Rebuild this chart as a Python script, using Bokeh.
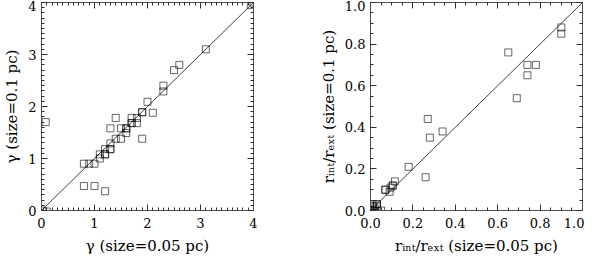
from bokeh.plotting import figure
from bokeh.layouts import row
from bokeh.models import (SingleIntervalTicker, LinearAxis, Range1d, PrintfTickFormatter,
                          CustomJSTickFormatter)
from bokeh.embed import file_html
from bokeh.resources import INLINE

# Left panel: gamma at two sizes
gamma_005 = [0.02, 0.10, 0.08, 0.80, 0.90, 1.00, 0.80, 1.00, 1.20, 1.10, 1.10, 1.20, 1.20,
             1.20, 1.30, 1.30, 1.30, 1.40, 1.50, 1.40, 1.30, 1.50, 1.60, 1.60, 1.60, 1.70,
             1.70, 1.80, 1.70, 1.80, 1.90, 1.90, 1.90, 2.00, 2.10, 2.30, 2.30, 2.50, 2.60,
             3.10, 3.95, 4.00]
gamma_01 = [0.00, -0.02, 1.70, 0.90, 0.90, 0.90, 0.47, 0.47, 0.37, 1.00, 1.08, 1.08, 1.08,
            1.18, 1.18, 1.18, 1.29, 1.38, 1.38, 1.78, 1.58, 1.58, 1.58, 1.58, 1.49, 1.68,
            1.68, 1.68, 1.78, 1.78, 1.89, 1.89, 1.38, 2.09, 1.88, 2.29, 2.40, 2.70, 2.80,
            3.10, 3.95, 4.00]

# Right panel: r_int/r_ext at two sizes
ratio_005 = [0.90, 0.90, 0.65, 0.74, 0.78, 0.74, 0.69, 0.27, 0.28, 0.34, 0.18, 0.26,
             0.115, 0.105, 0.105, 0.095, 0.07, 0.07, 0.09,
             0.00, 0.01, 0.02, 0.05, 0.01, 0.03, 0.01, 0.03, 0.02, 0.00, 0.01, 0.03]
ratio_01 = [0.88, 0.85, 0.76, 0.70, 0.70, 0.65, 0.54, 0.44, 0.35, 0.38, 0.21, 0.16,
            0.14, 0.12, 0.12, 0.11, 0.10, 0.10, 0.09,
            0.00, 0.00, 0.00, 0.00, 0.02, 0.02, 0.03, 0.03, 0.01, 0.00, 0.02, 0.03]

left_diag = [0, 4]
right_diag = [0, 1]

FONT = "DejaVu Serif"
AX = "#505050"


def style_axis(ax, show_labels):
    ax.axis_line_color = AX
    ax.major_tick_line_color = "#303030"
    ax.minor_tick_line_color = "#303030"
    ax.major_tick_in = 6
    ax.major_tick_out = 0
    ax.minor_tick_in = 3
    ax.minor_tick_out = 0
    ax.major_label_text_font = FONT
    ax.major_label_text_font_size = "13px"
    ax.major_label_text_color = "black"
    ax.axis_label_text_font = FONT
    ax.axis_label_text_font_size = "15px"
    ax.axis_label_text_font_style = "normal"
    ax.axis_label_text_color = "black"
    if not show_labels:
        ax.formatter = CustomJSTickFormatter(code="return '';")
        ax.major_label_standoff = 0


def make_panel(xs, ys, diag, interval, nminor, rng, xlabel, ylabel, fmt, bl, br):
    p = figure(frame_width=212, frame_height=208, output_backend="svg",
               toolbar_location=None, x_range=Range1d(*rng), y_range=Range1d(*rng),
               min_border_left=bl, min_border_right=br, min_border_top=2, min_border_bottom=0)
    p.grid.visible = False
    p.outline_line_color = None
    p.background_fill_color = "white"
    p.border_fill_color = "white"
    for ax in (p.xaxis[0], p.yaxis[0]):
        ax.ticker = SingleIntervalTicker(interval=interval, num_minor_ticks=nminor)
        if fmt:
            ax.formatter = PrintfTickFormatter(format=fmt)
        style_axis(ax, True)
    p.xaxis[0].axis_label = xlabel
    p.yaxis[0].axis_label = ylabel
    p.xaxis[0].major_label_standoff = 7
    p.yaxis[0].major_label_standoff = 5
    p.xaxis[0].axis_label_standoff = 6
    p.yaxis[0].axis_label_standoff = 4
    for side in ("above", "right"):
        ax = LinearAxis(ticker=SingleIntervalTicker(interval=interval, num_minor_ticks=nminor))
        style_axis(ax, False)
        p.add_layout(ax, side)
    p.line(diag, diag, line_color="#404040", line_width=1)
    p.scatter(xs, ys, marker="square", size=7, fill_alpha=0, line_color="black",
              line_alpha=0.6, line_width=1)
    return p


p1 = make_panel(gamma_005, gamma_01, left_diag, 1, 10, (0, 4),
                "γ (size=0.05 pc)", "γ (size=0.1 pc)", None, 34, 59)
p2 = make_panel(ratio_005, ratio_01, right_diag, 0.2, 4, (0, 1),
                "rᵢₙₜ/rₑₓₜ (size=0.05 pc)", "rᵢₙₜ/rₑₓₜ (size=0.1 pc)", "%.1f", 58, 2)

layout = row(p1, p2)
open("out.html", "w").write(file_html(layout, INLINE))
